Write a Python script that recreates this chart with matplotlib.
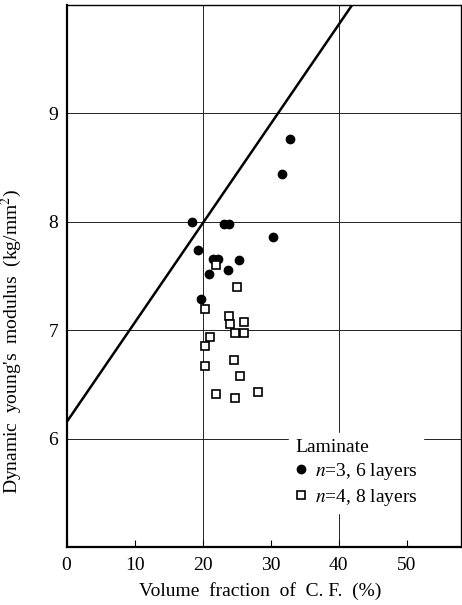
"""
Dynamic Young's modulus vs. volume fraction of carbon fibre (laminates).
Run: python plot.py
"""

import matplotlib
matplotlib.use("Agg")
import matplotlib.pyplot as plt
from matplotlib.lines import Line2D

plt.rcParams["font.family"] = ["Liberation Serif", "DejaVu Serif"]
plt.rcParams["mathtext.fontset"] = "stix"

# ─────────────────────────────────────────────────────────────
# Data
# ─────────────────────────────────────────────────────────────
# n = 3, 6 layers (filled circles)
vf_6layers = [32.9, 31.7, 18.4, 23.2, 23.9, 30.4, 19.4, 21.5, 22.3, 25.4, 20.9, 23.7, 19.7]
e_6layers = [8.76, 8.44, 8.00, 7.98, 7.98, 7.86, 7.74, 7.66, 7.66, 7.65, 7.52, 7.55, 7.29]

# n = 4, 8 layers (open squares)
vf_8layers = [21.9, 25.0, 20.4, 23.9, 24.1, 26.1, 21.1, 24.7, 26.1, 20.3, 24.6, 20.4,
              25.5, 22.0, 24.8, 28.2]
e_8layers = [7.60, 7.40, 7.19, 7.13, 7.06, 7.07, 6.94, 6.97, 6.97, 6.85, 6.72, 6.67,
             6.58, 6.41, 6.37, 6.43]

# theoretical line (end points)
line_vf = [0, 42]
line_e = [6.15, 10.0]

x_ticks = [0, 10, 20, 30, 40, 50]
y_ticks = [6, 7, 8, 9]
x_grid = [20, 40]

# ─────────────────────────────────────────────────────────────
# Figure
# ─────────────────────────────────────────────────────────────
fig = plt.figure(figsize=(4.62, 6.05), dpi=100)
ax = fig.add_axes([0.144, 0.096, 0.854, 0.896])

for gx in x_grid:
    ax.axvline(gx, color="#222222", linewidth=0.7, zorder=1)
for gy in y_ticks:
    ax.axhline(gy, color="#222222", linewidth=0.7, zorder=1)

ax.plot(line_vf, line_e, color="black", linewidth=1.8, zorder=2)

ax.plot(vf_6layers, e_6layers, linestyle="none", marker="o", markersize=6,
        color="black", zorder=3)
ax.plot(vf_8layers, e_8layers, linestyle="none", marker="s", markersize=6,
        markerfacecolor="white", markeredgecolor="black", markeredgewidth=1.2, zorder=3)

ax.set_xlim(0, 58)
ax.set_ylim(5, 10)
ax.set_xticks(x_ticks)
ax.set_yticks(y_ticks)
ax.tick_params(axis="x", direction="in", length=5, width=0.8, labelsize=14, pad=7)
ax.tick_params(axis="y", length=0, labelsize=14, pad=6)

for side in ["left", "bottom"]:
    ax.spines[side].set_linewidth(1.6)
for side in ["right", "top"]:
    ax.spines[side].set_linewidth(1.0)

ax.set_xlabel("Volume  fraction  of  C. F.  (%)", fontsize=14)
ax.xaxis.set_label_coords(0.49, -0.064)
ax.set_ylabel("Dynamic  young's  modulus  (kg/mm$^2$)", fontsize=14)
ax.yaxis.set_label_coords(-0.108, 0.38)

handles = [
    Line2D([], [], linestyle="none", marker="o", markersize=6, color="black"),
    Line2D([], [], linestyle="none", marker="s", markersize=5.5,
           markerfacecolor="white", markeredgecolor="black", markeredgewidth=1.2),
]
leg = ax.legend(handles, ["$n$=3, 6 layers", "$n$=4, 8 layers"],
                title="Laminate", alignment="left", loc="upper left",
                bbox_to_anchor=(0.54, 0.228), fontsize=14, title_fontsize=14,
                frameon=True, fancybox=False, edgecolor="white", facecolor="white",
                framealpha=1.0, handlelength=0.6, handletextpad=0.4, labelspacing=0.25,
                borderpad=0.3)
leg.set_zorder(5)

fig.savefig("out.png", dpi=100)
